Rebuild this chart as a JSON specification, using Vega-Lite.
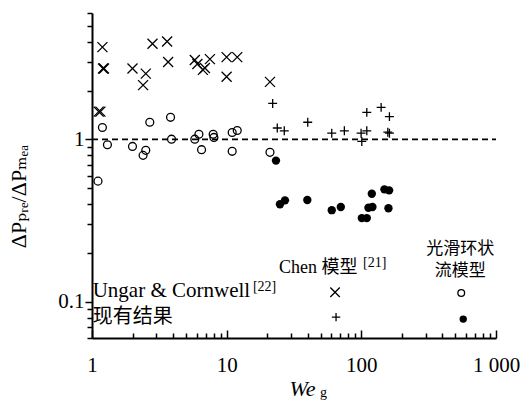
{
  "$schema": "https://vega.github.io/schema/vega-lite/v6.json",
  "width": 404,
  "height": 325,
  "autosize": {"type": "none"},
  "padding": {"left": 92, "top": 13, "right": 27, "bottom": 66},
  "background": "white",
  "config": {"view": {"stroke": null}},
  "datasets": {
    "chenUC": [
      {"x": 1.195, "y": 3.70}, {"x": 1.207, "y": 2.73}, {"x": 1.228, "y": 2.73}, {"x": 1.998, "y": 2.73},
      {"x": 2.508, "y": 2.54}, {"x": 2.395, "y": 2.16}, {"x": 2.813, "y": 3.88}, {"x": 3.612, "y": 4.01},
      {"x": 3.675, "y": 3.00}, {"x": 1.121, "y": 1.483}, {"x": 1.155, "y": 1.483}, {"x": 5.80, "y": 3.08},
      {"x": 6.06, "y": 2.91}, {"x": 6.66, "y": 2.68}, {"x": 6.89, "y": 2.75}, {"x": 7.51, "y": 3.12},
      {"x": 9.99, "y": 3.21}, {"x": 11.98, "y": 3.21}, {"x": 9.99, "y": 2.43}, {"x": 20.97, "y": 2.26}
    ],
    "smoothUC": [
      {"x": 1.108, "y": 0.554}, {"x": 1.195, "y": 1.184}, {"x": 1.302, "y": 0.928}, {"x": 1.998, "y": 0.906},
      {"x": 2.508, "y": 0.857}, {"x": 2.395, "y": 0.798}, {"x": 2.686, "y": 1.276}, {"x": 3.83, "y": 1.368},
      {"x": 3.895, "y": 1.004}, {"x": 5.80, "y": 1.004}, {"x": 6.22, "y": 1.077}, {"x": 6.51, "y": 0.865},
      {"x": 7.94, "y": 1.077}, {"x": 8.04, "y": 1.029}, {"x": 10.99, "y": 1.104}, {"x": 11.98, "y": 1.135},
      {"x": 10.99, "y": 0.845}, {"x": 20.97, "y": 0.833}
    ],
    "chenNow": [
      {"x": 21.96, "y": 1.666}, {"x": 23.76, "y": 1.176}, {"x": 26.78, "y": 1.130}, {"x": 39.99, "y": 1.276},
      {"x": 60.3, "y": 1.093}, {"x": 74.8, "y": 1.130}, {"x": 99.6, "y": 1.093}, {"x": 109.8, "y": 1.130},
      {"x": 100.8, "y": 0.972}, {"x": 109.8, "y": 1.468}, {"x": 140.3, "y": 1.575}, {"x": 161.7, "y": 1.382},
      {"x": 157.3, "y": 1.108}, {"x": 161.7, "y": 1.093}
    ],
    "smoothNow": [
      {"x": 23.23, "y": 0.741}, {"x": 24.88, "y": 0.399}, {"x": 27.10, "y": 0.422}, {"x": 39.72, "y": 0.424},
      {"x": 60.3, "y": 0.367}, {"x": 70.4, "y": 0.384}, {"x": 100.8, "y": 0.328}, {"x": 109.8, "y": 0.328},
      {"x": 112.9, "y": 0.380}, {"x": 120.9, "y": 0.384}, {"x": 119.6, "y": 0.463}, {"x": 148.4, "y": 0.493},
      {"x": 160.9, "y": 0.486}, {"x": 159.0, "y": 0.377}
    ],
    "refLine": [{"x": 1, "y": 1}, {"x": 1000, "y": 1}],
    "legX": [{"x": 63.8, "y": 0.1147}],
    "legO": [{"x": 552, "y": 0.1134}],
    "legP": [{"x": 64.9, "y": 0.0806}],
    "legD": [{"x": 571, "y": 0.0784}],
    "txtMain": [
      {"x": 24.45, "y": 0.1497, "t": "Chen 模型"}
    ],
    "txtUngar": [
      {"x": 1.012, "y": 0.1068, "t": "Ungar & Cornwell"}
    ],
    "txtSup": [
      {"x": 103.1, "y": 0.1652, "t": "[21]"},
      {"x": 15.67, "y": 0.1162, "t": "[22]"}
    ],
    "txtSmooth": [
      {"x": 542.7, "y": 0.2128, "t": "光滑环状"},
      {"x": 542.7, "y": 0.154, "t": "流模型"}
    ],
    "txtNow": [
      {"x": 1.012, "y": 0.0806, "t": "现有结果"}
    ],
    "txtSub": [
      {"x": 49.4, "y": 0.0305, "t": "g"}
    ]
  },
  "encoding": {
    "x": {
      "field": "x", "type": "quantitative",
      "scale": {"type": "log", "domain": [1, 1000]},
      "axis": {
        "values": [1, 2, 3, 4, 5, 6, 7, 8, 9, 10, 20, 30, 40, 50, 60, 70, 80, 90, 100, 200, 300, 400, 500, 600, 700, 800, 900, 1000],
        "labelExpr": "datum.value == 1 ? '1' : datum.value == 10 ? '10' : datum.value == 100 ? '100' : datum.value == 1000 ? '1 000' : ''",
        "grid": false,
        "domainColor": "black", "domainWidth": 2,
        "tickColor": "black", "tickWidth": 1.5,
        "tickSize": {"condition": {"test": "datum.value == 1 || datum.value == 10 || datum.value == 100 || datum.value == 1000", "value": -8}, "value": -5},
        "labelFont": "Liberation Serif", "labelFontSize": 21, "labelColor": "black",
        "labelBaseline": "top", "labelPadding": 24, "labelOverlap": false, "labelFlush": false,
        "title": "We", "titleFont": "Liberation Serif", "titleFontSize": 22, "titleFontStyle": "italic",
        "titleFontWeight": "normal", "titleColor": "black",
        "titleX": 210, "titleY": 50, "titleAlign": "center", "titleBaseline": "middle"
      }
    },
    "y": {
      "field": "y", "type": "quantitative",
      "scale": {"type": "log", "domain": [0.06, 6]},
      "axis": {
        "values": [0.06, 0.07, 0.08, 0.09, 0.1, 0.2, 0.3, 0.4, 0.5, 0.6, 0.7, 0.8, 0.9, 1, 2, 3, 4, 5, 6],
        "labelExpr": "datum.value == 1 ? '1' : datum.value == 0.1 ? '0.1' : ''",
        "grid": false,
        "domainColor": "black", "domainWidth": 2,
        "tickColor": "black", "tickWidth": 1.5,
        "tickSize": {"condition": {"test": "datum.value == 1 || datum.value == 0.1", "value": 7}, "value": 5},
        "labelFont": "Liberation Serif", "labelFontSize": 21, "labelColor": "black",
        "labelPadding": 1, "labelOverlap": false, "labelFlush": false,
        "title": "ΔPₚᵣₑ/ΔPₘₑₐ", "titleFont": "Liberation Serif, DejaVu Serif", "titleFontSize": 22,
        "titleFontWeight": "normal", "titleColor": "black",
        "titleAngle": 270, "titleX": -74, "titleY": 183, "titleAlign": "center", "titleBaseline": "middle"
      }
    }
  },
  "layer": [
    {
      "data": {"name": "refLine"},
      "mark": {"type": "line", "color": "black", "strokeWidth": 1.8, "strokeDash": [6, 4]}
    },
    {
      "data": {"name": "chenUC"},
      "mark": {"type": "point", "shape": "M-1,-1L1,1M-1,1L1,-1", "filled": false, "color": "black", "strokeWidth": 1.3, "size": 100, "opacity": 1}
    },
    {
      "data": {"name": "smoothUC"},
      "mark": {"type": "point", "shape": "circle", "filled": false, "color": "black", "strokeWidth": 1.3, "size": 62, "opacity": 1}
    },
    {
      "data": {"name": "chenNow"},
      "mark": {"type": "point", "shape": "M-1,0L1,0M0,-1L0,1", "filled": false, "color": "black", "strokeWidth": 1.3, "size": 80, "opacity": 1}
    },
    {
      "data": {"name": "smoothNow"},
      "mark": {"type": "point", "shape": "circle", "filled": true, "color": "black", "size": 70, "opacity": 1}
    },
    {
      "data": {"name": "legX"},
      "mark": {"type": "point", "shape": "M-1,-1L1,1M-1,1L1,-1", "filled": false, "color": "black", "strokeWidth": 1.3, "size": 90, "opacity": 1}
    },
    {
      "data": {"name": "legO"},
      "mark": {"type": "point", "shape": "circle", "filled": false, "color": "black", "strokeWidth": 1.3, "size": 45, "opacity": 1}
    },
    {
      "data": {"name": "legP"},
      "mark": {"type": "point", "shape": "M-1,0L1,0M0,-1L0,1", "filled": false, "color": "black", "strokeWidth": 1.3, "size": 70, "opacity": 1}
    },
    {
      "data": {"name": "legD"},
      "mark": {"type": "point", "shape": "circle", "filled": true, "color": "black", "size": 55, "opacity": 1}
    },
    {
      "data": {"name": "txtMain"},
      "mark": {"type": "text", "align": "left", "baseline": "alphabetic", "font": "Liberation Serif, Noto Sans CJK SC", "fontSize": 18, "color": "black"},
      "encoding": {"text": {"field": "t"}}
    },
    {
      "data": {"name": "txtUngar"},
      "mark": {"type": "text", "align": "left", "baseline": "alphabetic", "font": "Liberation Serif", "fontSize": 21, "color": "black"},
      "encoding": {"text": {"field": "t"}}
    },
    {
      "data": {"name": "txtSup"},
      "mark": {"type": "text", "align": "left", "baseline": "alphabetic", "font": "Liberation Serif", "fontSize": 14, "color": "black"},
      "encoding": {"text": {"field": "t"}}
    },
    {
      "data": {"name": "txtSmooth"},
      "mark": {"type": "text", "align": "center", "baseline": "middle", "font": "Noto Sans CJK SC", "fontSize": 17, "color": "black"},
      "encoding": {"text": {"field": "t"}}
    },
    {
      "data": {"name": "txtNow"},
      "mark": {"type": "text", "align": "left", "baseline": "middle", "font": "Noto Sans CJK SC", "fontSize": 20, "color": "black"},
      "encoding": {"text": {"field": "t"}}
    },
    {
      "data": {"name": "txtSub"},
      "mark": {"type": "text", "align": "left", "baseline": "top", "font": "Liberation Serif", "fontSize": 14, "color": "black"},
      "encoding": {"text": {"field": "t"}}
    }
  ]
}
